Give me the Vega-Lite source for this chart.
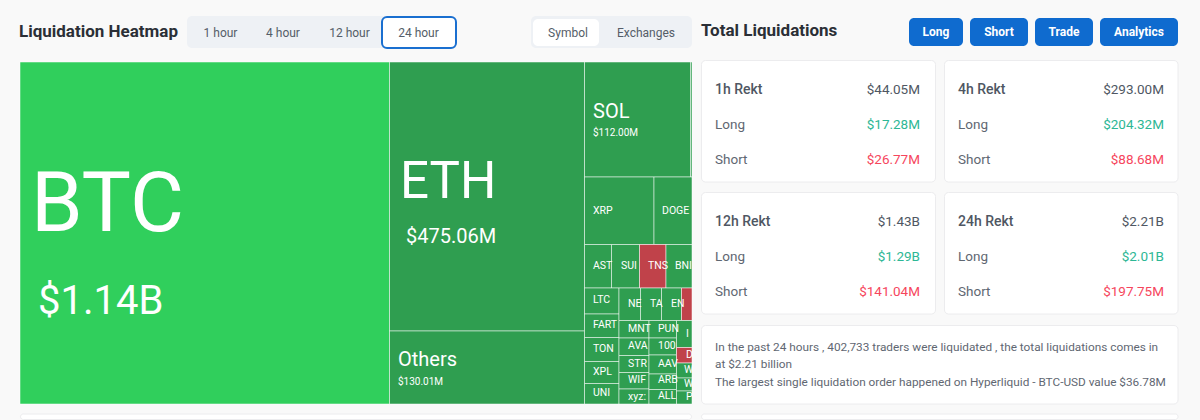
{"$schema":"https://vega.github.io/schema/vega-lite/v6.json","width":1200,"height":420,"autosize":{"type":"fit","contains":"padding"},"padding":0,"background":"#f9f9f9","config":{"view":{"stroke":null},"text":{"font":"Roboto"}},
"datasets":{
"panels":[
{"name":"tabs","kind":"pill","x0":187,"x1":456,"y0":16,"y1":48},
{"name":"mode","kind":"pill","x0":531,"x1":692,"y0":16,"y1":48},
{"name":"symbol","kind":"white","x0":533,"x1":599,"y0":19,"y1":46},
{"name":"Long","kind":"blue","x0":909,"x1":963,"y0":18,"y1":46},
{"name":"Short","kind":"blue","x0":970,"x1":1028,"y0":18,"y1":46},
{"name":"Trade","kind":"blue","x0":1035,"x1":1093,"y0":18,"y1":46},
{"name":"Analytics","kind":"blue","x0":1100,"x1":1178,"y0":18,"y1":46}],
"cards":[
{"name":"1h","x0":701.5,"x1":935.5,"y0":60.5,"y1":182},
{"name":"4h","x0":944.5,"x1":1178,"y0":60.5,"y1":182},
{"name":"12h","x0":701.5,"x1":935.5,"y0":192.5,"y1":314},
{"name":"24h","x0":944.5,"x1":1178,"y0":192.5,"y1":314},
{"name":"summary","x0":701.5,"x1":1178,"y0":325.5,"y1":404},
{"name":"lower right","x0":701.5,"x1":1178,"y0":414,"y1":419.5},
{"name":"lower left","x0":20.5,"x1":691.5,"y0":414,"y1":419.5}],
"selected":[{"name":"24 hour","x0":382,"x1":456,"y0":17,"y1":48}],
"cells":[
{"symbol":"BTC","state":"top","x0":20,"x1":389.5,"y0":62,"y1":404},
{"symbol":"ETH","state":"long","x0":389.5,"x1":584.5,"y0":62,"y1":331},
{"symbol":"Others","state":"long","x0":389.5,"x1":584.5,"y0":331,"y1":404},
{"symbol":"SOL","state":"long","x0":584.5,"x1":690.5,"y0":62,"y1":177},
{"symbol":"next","state":"long","x0":690.5,"x1":692,"y0":62,"y1":177},
{"symbol":"XRP","state":"long","x0":584.5,"x1":654,"y0":177,"y1":244.5},
{"symbol":"DOGE","state":"long","x0":654,"x1":692,"y0":177,"y1":244.5},
{"symbol":"AST","state":"long","x0":584.5,"x1":611.5,"y0":244.5,"y1":288},
{"symbol":"SUI","state":"long","x0":611.5,"x1":639.5,"y0":244.5,"y1":288},
{"symbol":"TNS","state":"short","x0":639.5,"x1":666,"y0":244.5,"y1":288},
{"symbol":"BNB","state":"long","x0":666,"x1":692,"y0":244.5,"y1":288},
{"symbol":"LTC","state":"long","x0":584.5,"x1":619,"y0":288,"y1":314},
{"symbol":"FART","state":"long","x0":584.5,"x1":619,"y0":314,"y1":337.5},
{"symbol":"TON","state":"long","x0":584.5,"x1":619,"y0":337.5,"y1":361.5},
{"symbol":"XPL","state":"long","x0":584.5,"x1":619,"y0":361.5,"y1":383.5},
{"symbol":"UNI","state":"long","x0":584.5,"x1":619,"y0":383.5,"y1":404},
{"symbol":"NE","state":"long","x0":619,"x1":640.5,"y0":288,"y1":320.5},
{"symbol":"TA","state":"long","x0":640.5,"x1":661.5,"y0":288,"y1":320.5},
{"symbol":"EN","state":"long","x0":661.5,"x1":681.5,"y0":288,"y1":320.5},
{"symbol":"red","state":"short","x0":681.5,"x1":692,"y0":288,"y1":320.5},
{"symbol":"MNT","state":"long","x0":619,"x1":649,"y0":320.5,"y1":338},
{"symbol":"AVAX","state":"long","x0":619,"x1":649,"y0":338,"y1":355.5},
{"symbol":"STRK","state":"long","x0":619,"x1":649,"y0":355.5,"y1":372.5},
{"symbol":"WIF","state":"long","x0":619,"x1":649,"y0":372.5,"y1":389},
{"symbol":"xyz","state":"long","x0":619,"x1":649,"y0":389,"y1":404},
{"symbol":"PUN","state":"long","x0":649,"x1":676.5,"y0":320.5,"y1":338},
{"symbol":"100","state":"long","x0":649,"x1":676.5,"y0":338,"y1":355},
{"symbol":"AAV","state":"long","x0":649,"x1":676.5,"y0":355,"y1":374},
{"symbol":"ARB","state":"long","x0":649,"x1":676.5,"y0":374,"y1":389.5},
{"symbol":"ALL","state":"long","x0":649,"x1":676.5,"y0":389.5,"y1":404},
{"symbol":"IC","state":"long","x0":676.5,"x1":692,"y0":320.5,"y1":347.5},
{"symbol":"D","state":"short","x0":676.5,"x1":692,"y0":347.5,"y1":363},
{"symbol":"W1","state":"long","x0":676.5,"x1":692,"y0":363,"y1":378},
{"symbol":"W2","state":"long","x0":676.5,"x1":692,"y0":378,"y1":391},
{"symbol":"P","state":"long","x0":676.5,"x1":692,"y0":391,"y1":404}],
"mapLabels":[
{"label":"BTC","x":31,"y":206,"role":"a"},
{"label":"$1.14B","x":38,"y":302,"role":"b"},
{"label":"ETH","x":400,"y":183,"role":"c"},
{"label":"$475.06M","x":406,"y":237,"role":"d"},
{"label":"Others","x":398,"y":360,"role":"d"},
{"label":"$130.01M","x":398,"y":382,"role":"e"},
{"label":"SOL","x":593,"y":112,"role":"d"},
{"label":"$112.00M","x":593,"y":133,"role":"e"},
{"label":"XRP","x":593,"y":211,"role":"f"},
{"label":"DOGE","x":662,"y":211,"role":"f"},
{"label":"AST","x":593,"y":266,"role":"f"},
{"label":"SUI","x":621,"y":266,"role":"f"},
{"label":"TNS","x":648,"y":266,"role":"f"},
{"label":"BNI","x":675,"y":266,"role":"f"},
{"label":"LTC","x":593,"y":300,"role":"f"},
{"label":"FART","x":593,"y":325,"role":"f"},
{"label":"TON","x":593,"y":349,"role":"f"},
{"label":"XPL","x":593,"y":372,"role":"f"},
{"label":"UNI","x":593,"y":393,"role":"f"},
{"label":"NE","x":628,"y":304,"role":"f"},
{"label":"TA","x":650,"y":304,"role":"f"},
{"label":"EN","x":671,"y":304,"role":"f"},
{"label":"MNT","x":628,"y":329,"role":"f"},
{"label":"AVA","x":628,"y":346,"role":"f"},
{"label":"STR","x":628,"y":364,"role":"f"},
{"label":"WIF","x":628,"y":380,"role":"f"},
{"label":"xyz:","x":628,"y":397,"role":"f"},
{"label":"PUN","x":658,"y":329,"role":"f"},
{"label":"100","x":658,"y":346,"role":"f"},
{"label":"AAV","x":658,"y":364,"role":"f"},
{"label":"ARB","x":658,"y":380,"role":"f"},
{"label":"ALL","x":658,"y":396,"role":"f"},
{"label":"I","x":686,"y":334,"role":"f"},
{"label":"D","x":686,"y":355,"role":"f"},
{"label":"W","x":684,"y":370,"role":"f"},
{"label":"W","x":684,"y":384,"role":"f"},
{"label":"P","x":686,"y":397,"role":"f"}],
"headings":[
{"label":"Liquidation Heatmap","x":19,"y":32},
{"label":"Total Liquidations","x":701,"y":31}],
"centered":[
{"label":"1 hour","x":220.5,"y":32.5},
{"label":"4 hour","x":283,"y":32.5},
{"label":"12 hour","x":349.5,"y":32.5},
{"label":"24 hour","x":418.5,"y":32.5},
{"label":"Symbol","x":568,"y":32.5},
{"label":"Exchanges","x":646,"y":32.5}],
"buttons":[
{"label":"Long","x":936,"y":32},
{"label":"Short","x":999,"y":32},
{"label":"Trade","x":1064,"y":32},
{"label":"Analytics","x":1139,"y":32}],
"leftText":[
{"label":"1h Rekt","x":715,"y":89.5,"weight":"head"},
{"label":"Long","x":715,"y":124.5,"weight":"row"},
{"label":"Short","x":715,"y":159.5,"weight":"row"},
{"label":"4h Rekt","x":958,"y":89.5,"weight":"head"},
{"label":"Long","x":958,"y":124.5,"weight":"row"},
{"label":"Short","x":958,"y":159.5,"weight":"row"},
{"label":"12h Rekt","x":715,"y":221.5,"weight":"head"},
{"label":"Long","x":715,"y":256.5,"weight":"row"},
{"label":"Short","x":715,"y":291.5,"weight":"row"},
{"label":"24h Rekt","x":958,"y":221.5,"weight":"head"},
{"label":"Long","x":958,"y":256.5,"weight":"row"},
{"label":"Short","x":958,"y":291.5,"weight":"row"}],
"amounts":[
{"label":"$44.05M","x":920,"y":89.5,"side":"total"},
{"label":"$17.28M","x":920,"y":124.5,"side":"long"},
{"label":"$26.77M","x":920,"y":159.5,"side":"short"},
{"label":"$293.00M","x":1164,"y":89.5,"side":"total"},
{"label":"$204.32M","x":1164,"y":124.5,"side":"long"},
{"label":"$88.68M","x":1164,"y":159.5,"side":"short"},
{"label":"$1.43B","x":920,"y":221.5,"side":"total"},
{"label":"$1.29B","x":920,"y":256.5,"side":"long"},
{"label":"$141.04M","x":920,"y":291.5,"side":"short"},
{"label":"$2.21B","x":1164,"y":221.5,"side":"total"},
{"label":"$2.01B","x":1164,"y":256.5,"side":"long"},
{"label":"$197.75M","x":1164,"y":291.5,"side":"short"}],
"summary":[
{"label":"In the past 24 hours , 402,733 traders were liquidated , the total liquidations comes in","x":715,"y":347},
{"label":"at $2.21 billion","x":715,"y":364},
{"label":"The largest single liquidation order happened on Hyperliquid - BTC-USD value $36.78M","x":715,"y":382}]
},
"encoding":{
"x":{"field":"x","type":"quantitative","axis":null,"scale":{"domain":[0,1200],"nice":false,"zero":false}},
"y":{"field":"y","type":"quantitative","axis":null,"scale":{"domain":[420,0],"nice":false,"zero":false}}
},
"resolve":{"scale":{"fill":"independent","size":"independent"}},
"layer":[
{"data":{"name":"panels"},"mark":{"type":"rect","cornerRadius":5},"encoding":{"x":{"field":"x0","type":"quantitative","axis":null,"scale":{"domain":[0,1200],"nice":false,"zero":false}},"x2":{"field":"x1"},"y":{"field":"y0","type":"quantitative","axis":null,"scale":{"domain":[420,0],"nice":false,"zero":false}},"y2":{"field":"y1"},"fill":{"field":"kind","type":"nominal","legend":null,"scale":{"domain":["pill","white","blue"],"range":["#eef1f5","#ffffff","#0f6bcf"]}}}},
{"data":{"name":"selected"},"mark":{"type":"rect","cornerRadius":5,"fill":"#ffffff","stroke":"#1a6fd0","strokeWidth":2},"encoding":{"x":{"field":"x0","type":"quantitative","axis":null,"scale":{"domain":[0,1200],"nice":false,"zero":false}},"x2":{"field":"x1"},"y":{"field":"y0","type":"quantitative","axis":null,"scale":{"domain":[420,0],"nice":false,"zero":false}},"y2":{"field":"y1"}}},
{"data":{"name":"cards"},"mark":{"type":"rect","cornerRadius":4,"fill":"#ffffff","stroke":"#ececee","strokeWidth":1},"encoding":{"x":{"field":"x0","type":"quantitative","axis":null,"scale":{"domain":[0,1200],"nice":false,"zero":false}},"x2":{"field":"x1"},"y":{"field":"y0","type":"quantitative","axis":null,"scale":{"domain":[420,0],"nice":false,"zero":false}},"y2":{"field":"y1"}}},
{"data":{"name":"cells"},"mark":{"type":"rect","stroke":"#ffffff","strokeOpacity":0.5,"strokeWidth":1},"encoding":{"x":{"field":"x0","type":"quantitative","axis":null,"scale":{"domain":[0,1200],"nice":false,"zero":false}},"x2":{"field":"x1"},"y":{"field":"y0","type":"quantitative","axis":null,"scale":{"domain":[420,0],"nice":false,"zero":false}},"y2":{"field":"y1"},"fill":{"field":"state","type":"nominal","legend":null,"scale":{"domain":["top","long","short"],"range":["#30cf5c","#2f9e50","#c0424a"]}}}},
{"data":{"name":"mapLabels"},"mark":{"type":"text","align":"left","baseline":"middle","font":"Roboto","fill":"#ffffff"},"encoding":{"text":{"field":"label"},"size":{"field":"role","type":"nominal","legend":null,"scale":{"type":"ordinal","domain":["a","b","c","d","e","f"],"range":[83,40,51,20,10,10.5]}}}},
{"data":{"name":"headings"},"mark":{"type":"text","align":"left","baseline":"middle","font":"Roboto","fontWeight":700,"fontSize":17,"fill":"#2b2f36"},"encoding":{"text":{"field":"label"}}},
{"data":{"name":"centered"},"mark":{"type":"text","align":"center","baseline":"middle","font":"Roboto","fontSize":12,"fill":"#555d68"},"encoding":{"text":{"field":"label"}}},
{"data":{"name":"buttons"},"mark":{"type":"text","align":"center","baseline":"middle","font":"Roboto","fontWeight":700,"fontSize":12,"fill":"#ffffff"},"encoding":{"text":{"field":"label"}}},
{"data":{"name":"leftText"},"transform":[{"filter":"datum.weight==='head'"}],"mark":{"type":"text","align":"left","baseline":"middle","font":"Roboto","fontWeight":500,"fontSize":14,"fill":"#4f5763"},"encoding":{"text":{"field":"label"}}},
{"data":{"name":"leftText"},"transform":[{"filter":"datum.weight==='row'"}],"mark":{"type":"text","align":"left","baseline":"middle","font":"Roboto","fontSize":13.5,"fill":"#5f6772"},"encoding":{"text":{"field":"label"}}},
{"data":{"name":"amounts"},"mark":{"type":"text","align":"right","baseline":"middle","font":"Roboto","fontSize":13.5},"encoding":{"text":{"field":"label"},"fill":{"field":"side","type":"nominal","legend":null,"scale":{"domain":["total","long","short"],"range":["#4f5763","#2db795","#f6465d"]}}}},
{"data":{"name":"summary"},"mark":{"type":"text","align":"left","baseline":"middle","font":"Roboto","fontSize":11.8,"fill":"#5f6772"},"encoding":{"text":{"field":"label"}}}
]}
